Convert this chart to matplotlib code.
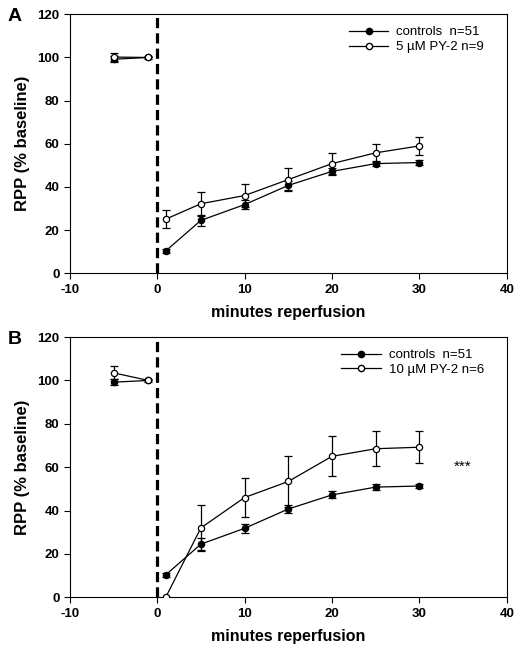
import numpy as np
import matplotlib.pyplot as plt
from matplotlib.lines import Line2D

plt.rcParams['font.family'] = ['Liberation Sans', 'DejaVu Sans']
plt.rcParams['axes.unicode_minus'] = False

minutes = [-5, -1, 1, 5, 10, 15, 20, 25, 30]

# controls (same series in both panels)
ctrl = [99.2, 100, 10.4, 24.5, 31.8, 40.7, 47.2, 50.8, 51.3]
ctrl_err = [1.5, 0.5, 1.0, 2.6, 2.0, 2.0, 1.6, 1.3, 1.0]

# 5 uM PY-2
py5 = [100.2, 100, 25.1, 32.2, 36.0, 43.4, 50.8, 55.8, 59.0]
py5_err = [1.8, 0, 4.2, 5.6, 5.4, 5.4, 5.0, 4.2, 4.2]

# 10 uM PY-2
py10 = [103.5, 100, 0.2, 32.0, 46.0, 53.4, 65.0, 68.5, 69.2]
py10_err = [3.0, 0, 0, 10.6, 8.8, 11.7, 9.2, 8.1, 7.4]

panels = [
    ("A", py5, py5_err, "5 \u00b5M PY-2 n=9", None),
    ("B", py10, py10_err, "10 \u00b5M PY-2 n=6", "***"),
]

fig = plt.figure(figsize=(5.29, 6.52), dpi=100)
boxes = [[0.132, 0.581, 0.826, 0.397], [0.132, 0.084, 0.826, 0.399]]

x = np.array(minutes)
pre = x < 0  # baseline points, not joined to reperfusion points


def draw(ax, ys, es, face, z):
    ys = np.array(ys)
    es = np.array(es)
    for m in (pre, ~pre):
        ax.errorbar(x[m], ys[m], yerr=es[m], color='black', lw=0.9,
                    marker='o', ms=4.5, mfc=face, mec='black', mew=0.9,
                    capsize=3, elinewidth=0.9, capthick=0.9, zorder=z)


for box, (tag, ys, es, lab, star) in zip(boxes, panels):
    ax = fig.add_axes(box)
    draw(ax, ctrl, ctrl_err, 'black', 3)
    draw(ax, ys, es, 'white', 4)
    ax.plot([0, 0], [0, 120], color='black', lw=2.3, ls=(0, (3.2, 1.6)), zorder=2)
    ax.set_xlim(-10, 40)
    ax.set_ylim(0, 120)
    ax.set_xticks(np.arange(-10, 41, 10))
    ax.set_yticks(np.arange(0, 121, 20))
    ax.tick_params(direction='out', length=4, labelsize=9.5, top=False, right=False)
    for t in ax.get_xticklabels() + ax.get_yticklabels():
        t.set_fontweight('bold')
    ax.set_xlabel('minutes reperfusion', fontsize=11.5, fontweight='bold', labelpad=7)
    ax.set_ylabel('RPP (% baseline)', fontsize=12, fontweight='bold', labelpad=5)
    handles = [
        Line2D([], [], color='black', lw=0.9, marker='o', ms=4.5, mfc='black', mec='black'),
        Line2D([], [], color='black', lw=0.9, marker='o', ms=4.5, mfc='white', mec='black'),
    ]
    ax.legend(handles, ['controls  n=51', lab], loc='upper right', frameon=False,
              fontsize=9.5, handlelength=3.0, handletextpad=0.6, labelspacing=0.2,
              borderaxespad=0.5, bbox_to_anchor=(0.975, 1.0))
    if star:
        ax.text(35, 60, star, ha='center', va='center', fontsize=11)
    fig.text(0.015, box[1] + box[3] - 0.004, tag, fontsize=14, fontweight='bold',
             ha='left', va='center')

fig.savefig('out.png', dpi=100)
